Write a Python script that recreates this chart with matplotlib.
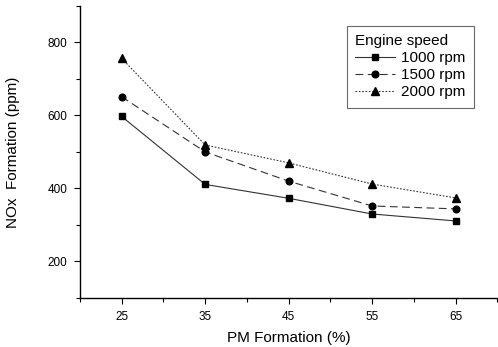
import matplotlib
matplotlib.use("Agg")
import matplotlib.pyplot as plt
from matplotlib.ticker import MultipleLocator

plt.rcParams['font.family'] = ['Liberation Sans', 'DejaVu Sans']

pm = [25, 35, 45, 55, 65]
nox_1000 = [597, 411, 373, 330, 311]
nox_1500 = [651, 500, 420, 352, 344]
nox_2000 = [756, 519, 470, 412, 374]
labels = ['1000 rpm', '1500 rpm', '2000 rpm']

fig = plt.figure(figsize=(4.98, 3.47), dpi=100)
ax = fig.add_axes([0.1606, 0.1412, 0.838, 0.842])

lc = '#333333'
ax.plot(pm, nox_1000, color=lc, lw=0.8, ls='-', marker='s', ms=4.5, mfc='black', mec='black', label=labels[0])
ax.plot(pm, nox_1500, color=lc, lw=0.8, ls=(0, (7, 4)), marker='o', ms=4.8, mfc='black', mec='black', label=labels[1])
ax.plot(pm, nox_2000, color=lc, lw=0.8, ls=(0, (1.5, 1.5)), marker='^', ms=5.5, mfc='black', mec='black', label=labels[2])

ax.set_xlim(20, 70)
ax.set_ylim(100, 900)
ax.yaxis.set_major_locator(MultipleLocator(200))
ax.yaxis.set_minor_locator(MultipleLocator(100))
ax.set_xticks([25, 35, 45, 55, 65])
ax.set_xticks([20, 30, 40, 50, 60, 70], minor=True)

for s in ['top', 'right']:
    ax.spines[s].set_visible(False)
for s in ['left', 'bottom']:
    ax.spines[s].set_linewidth(1.0)

ax.tick_params(axis='both', which='major', direction='out', length=4, width=0.8, labelsize=8.5, pad=5)
ax.tick_params(axis='both', which='minor', direction='out', length=3, width=0.8)

ax.set_xlabel('PM Formation (%)', fontsize=11, labelpad=6)
ax.set_ylabel('NOx  Formation (ppm)', fontsize=11, labelpad=20)

leg = ax.legend(title='Engine speed', loc='upper right', bbox_to_anchor=(0.943, 0.932),
                fontsize=11, title_fontsize=11, frameon=True, fancybox=False,
                edgecolor='#444444', handlelength=2.6, borderpad=0.55,
                labelspacing=0.2, handletextpad=0.4, borderaxespad=0)
leg.get_frame().set_linewidth(0.8)
leg._legend_box.align = 'left'

fig.savefig('out.png', dpi=100)
